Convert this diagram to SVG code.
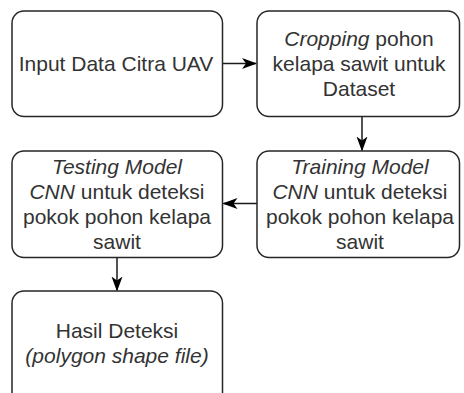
<svg xmlns="http://www.w3.org/2000/svg" width="464" height="393" viewBox="0 0 464 393">
<defs>
<style>
.box{fill:#fff;stroke:#262626;stroke-width:1.5}
.t{font-family:"Liberation Sans",Arial,sans-serif;font-size:21px;fill:#333;text-anchor:middle}
.i{font-style:italic}
.c{stroke:#1a1a1a;stroke-width:1.5;fill:none}
</style>
<marker id="ah" markerWidth="15" markerHeight="12" refX="14" refY="6" orient="auto" markerUnits="userSpaceOnUse">
<path d="M0,0.5 L15,6 L0,11.5 L4,6 Z" fill="#000"/>
</marker>
</defs>
<rect width="464" height="393" fill="#fff"/>
<g id="connectors">
<line class="c" x1="222.5" y1="63.5" x2="256" y2="63.5" marker-end="url(#ah)"/>
<line class="c" x1="362" y1="116.5" x2="362" y2="150.5" marker-end="url(#ah)"/>
<line class="c" x1="257" y1="203.5" x2="223.5" y2="203.5" marker-end="url(#ah)"/>
<line class="c" x1="117" y1="257.5" x2="117" y2="290.5" marker-end="url(#ah)"/>
</g>
<g id="n1">
<rect class="box" x="12" y="11" width="210.5" height="105.5" rx="12"/>
<text class="t" x="116" y="70.5">Input Data Citra UAV</text>
</g>
<g id="n2">
<rect class="box" x="257" y="11" width="202.5" height="105.5" rx="12"/>
<text class="t" x="359" y="46"><tspan class="i">Cropping</tspan> pohon</text>
<text class="t" x="359" y="71">kelapa sawit untuk</text>
<text class="t" x="359" y="96">Dataset</text>
</g>
<g id="n3">
<rect class="box" x="257" y="151" width="202.5" height="106.5" rx="12"/>
<text class="t" x="360" y="173.5"><tspan class="i">Training Model</tspan></text>
<text class="t" x="360" y="198.5"><tspan class="i">CNN</tspan> untuk deteksi</text>
<text class="t" x="360" y="223.5">pokok pohon kelapa</text>
<text class="t" x="360" y="248.5">sawit</text>
</g>
<g id="n4">
<rect class="box" x="12" y="151" width="210.5" height="106.5" rx="12"/>
<text class="t" x="117" y="173.5"><tspan class="i">Testing Model</tspan></text>
<text class="t" x="117" y="198.5"><tspan class="i">CNN</tspan> untuk deteksi</text>
<text class="t" x="117" y="223.5">pokok pohon kelapa</text>
<text class="t" x="117" y="248.5">sawit</text>
</g>
<g id="n5">
<rect class="box" x="12" y="291" width="210.5" height="125" rx="12"/>
<text class="t" x="117" y="337.5">Hasil Deteksi</text>
<text class="t" x="117" y="362.5"><tspan class="i">(polygon shape file)</tspan></text>
</g>
</svg>
